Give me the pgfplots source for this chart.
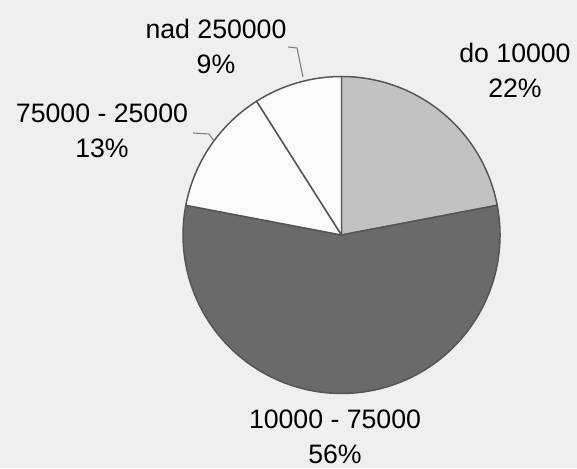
\documentclass[border=0pt]{standalone}
\usepackage{fontspec}
\setmainfont{Liberation Sans}
\usepackage{pgfplots}
\usepackage{pgfplotstable}
\pgfplotsset{compat=1.18}

\definecolor{bgcol}{RGB}{239,239,241}
\definecolor{pieedge}{RGB}{88,84,86}
\definecolor{pieLight}{RGB}{194,194,194}
\definecolor{pieDark}{RGB}{106,106,106}
\definecolor{pieWhite}{RGB}{250,250,250}
\definecolor{leader}{RGB}{125,125,125}

% share of each income group, clockwise from 12 o'clock
\pgfplotstableread[col sep=comma]{
group,value,color
do 10000,22,pieLight
10000 - 75000,56,pieDark
75000 - 25000,13,pieWhite
nad 250000,9,pieWhite
}\piedata

\begin{document}
\begin{tikzpicture}
\begin{axis}[
  hide axis, scale only axis,
  x=0.75pt, y=0.75pt,
  xmin=0, xmax=577, ymin=0, ymax=468,
  clip=false,
]
\fill[bgcol] (rel axis cs:0,0) rectangle (rel axis cs:1,1);
\def\startA{90}
\pgfplotsforeachungrouped \i in {0,...,3}{%
  \pgfplotstablegetelem{\i}{value}\of\piedata
  \pgfmathsetmacro\endA{\startA-3.6*\pgfplotsretval}
  \pgfplotstablegetelem{\i}{color}\of\piedata
  \edef\temp{\noexpand\filldraw[fill=\pgfplotsretval, draw=pieedge, line width=1.1pt, line join=round]
    (axis cs:341.5,233) -- (axis cs:{341.5+158.5*cos(\startA)},{233+158.5*sin(\startA)})
    arc[start angle=\startA, end angle=\endA, radius=118.875pt] -- cycle;}%
  \temp
  \global\let\startA\endA
}
\draw[leader, line width=0.8pt] (axis cs:288,421) -- (axis cs:297,420) -- (axis cs:303,391);
\draw[leader, line width=0.8pt] (axis cs:193,335) -- (axis cs:209,334) -- (axis cs:214,327);
\tikzset{lab/.style={anchor=north, inner sep=0pt, align=center,
  font=\fontsize{20}{26.25}\selectfont}}
\node[lab] at (axis cs:216,449) {nad 250000\\9\%};
\node[lab] at (axis cs:102,364) {75000 - 25000\\13\%};
\node[lab] at (axis cs:515,425) {do 10000\\22\%};
\node[lab] at (axis cs:335,58) {10000 - 75000\\56\%};
\end{axis}
\end{tikzpicture}
\end{document}
